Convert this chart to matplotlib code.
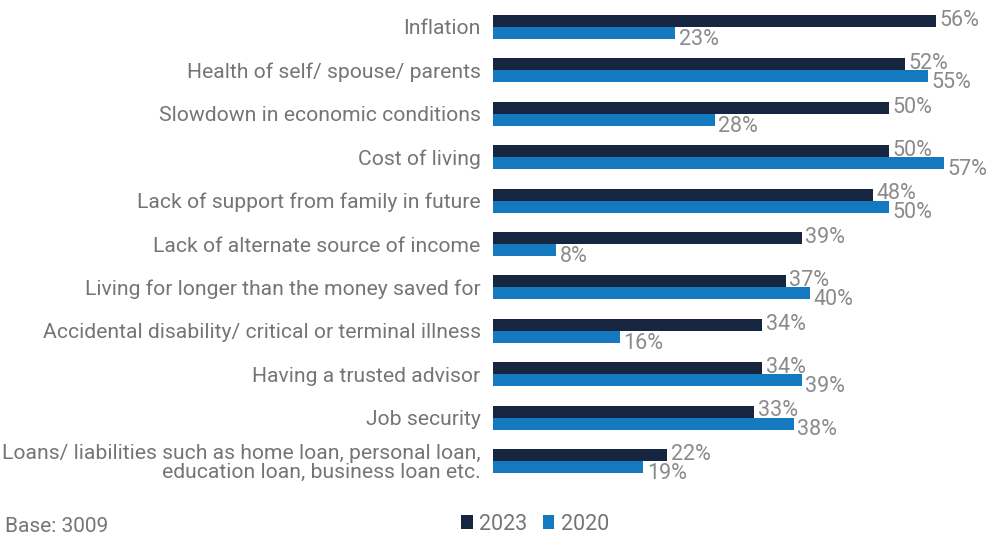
import matplotlib
matplotlib.use('Agg')
import matplotlib.pyplot as plt
import numpy as np

categories = [
    'Inflation',
    'Health of self/ spouse/ parents',
    'Slowdown in economic conditions',
    'Cost of living',
    'Lack of support from family in future',
    'Lack of alternate source of income',
    'Living for longer than the money saved for',
    'Accidental disability/ critical or terminal illness',
    'Having a trusted advisor',
    'Job security',
    'Loans/ liabilities such as home loan, personal loan,\neducation loan, business loan etc.',
]
vals_2023 = [56, 52, 50, 50, 48, 39, 37, 34, 34, 33, 22]
vals_2020 = [23, 55, 28, 57, 50, 8, 40, 16, 39, 38, 19]

DARK = '#172640'
BLUE = '#1479be'
LABEL_GRAY = '#757575'
VALUE_GRAY = '#8a8a8a'

plt.rcParams['font.family'] = ['Roboto', 'DejaVu Sans']

fig = plt.figure(figsize=(9.97, 5.35), dpi=100)
ax = fig.add_axes([493 / 997, 1 - 482.7 / 535, 475 / 997, (482.7 - 5.3) / 535])

y = np.arange(len(categories))
h = 0.276
ax.barh(y - h / 2, vals_2023, height=h, color=DARK, label='2023')
ax.barh(y + h / 2, vals_2020, height=h, color=BLUE, label='2020')

# value labels: 2023 sits a bit above its bar, 2020 a bit below
for i, (a, b) in enumerate(zip(vals_2023, vals_2020)):
    ax.annotate(f'{a}%', (a, i - h / 2), xytext=(2.5, 0.5), textcoords='offset points',
                ha='left', va='center', fontsize=15.5, color=VALUE_GRAY)
    ax.annotate(f'{b}%', (b, i + h / 2), xytext=(2.5, -4.5), textcoords='offset points',
                ha='left', va='center', fontsize=15.5, color=VALUE_GRAY)

ax.set_xlim(0, 60)
ax.set_ylim(len(categories) - 0.5, -0.5)
ax.set_yticks(y)
ax.set_yticklabels(categories, fontsize=15.2, color=LABEL_GRAY, linespacing=1.0)
ax.tick_params(axis='y', length=0, pad=9)
ax.set_xticks([])
for s in ax.spines.values():
    s.set_visible(False)

leg = fig.legend(loc='center', bbox_to_anchor=(535 / 997, 1 - 524 / 535), ncol=2,
                 frameon=False, handlelength=0.55, handleheight=0.6, handletextpad=0.3,
                 columnspacing=0.7, prop={'size': 15.5})
for t in leg.get_texts():
    t.set_color(LABEL_GRAY)

fig.text(5 / 997, 1 - 526 / 535, 'Base: 3009', fontsize=15, color=LABEL_GRAY,
         ha='left', va='center')

fig.savefig('out.png', dpi=100)
